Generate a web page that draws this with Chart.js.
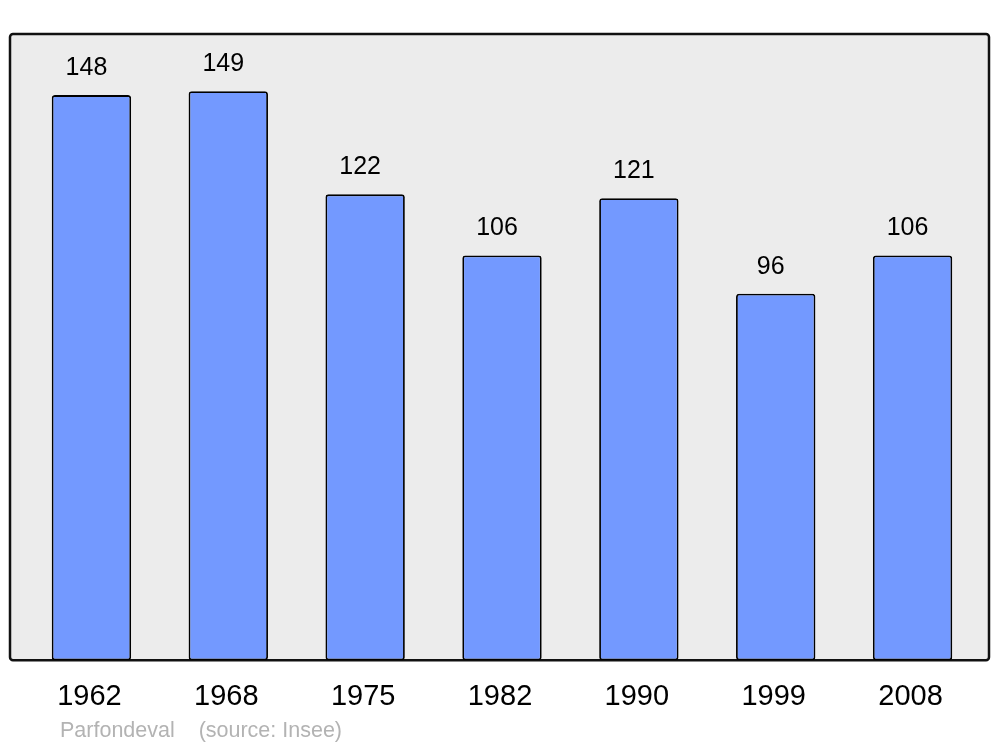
<!DOCTYPE html>
<html>
<head>
<meta charset="utf-8">
<script src="https://cdn.jsdelivr.net/npm/chart.js@4"></script>
<style>
  html, body { margin: 0; padding: 0; background: #ffffff; }
  #wrap { width: 1000px; height: 747px; }
</style>
</head>
<body>
<div id="wrap"><canvas id="popChart" width="1000" height="747"></canvas></div>
<script>
const years = ['1962', '1968', '1975', '1982', '1990', '1999', '2008'];
const population = [148, 149, 122, 106, 121, 96, 106];
const caption = 'Parfondeval    (source: Insee)';

const fontFamily = '"Liberation Sans", Arial, sans-serif';

// grey frame behind the bars
const framePlugin = {
    id: 'frame',
    beforeDatasetsDraw(chart) {
        const { ctx, chartArea } = chart;
        const x = chartArea.left - 13, y = chartArea.top;
        const w = chartArea.right + 8 - x, h = chartArea.bottom - y;
        ctx.save();
        ctx.beginPath();
        ctx.roundRect(x, y, w, h, 3);
        ctx.fillStyle = '#ececec';
        ctx.fill();
        ctx.lineWidth = 2.5;
        ctx.strokeStyle = '#111111';
        ctx.stroke();
        ctx.restore();
    }
};

// value above each bar + source caption
const labelPlugin = {
    id: 'valueLabels',
    afterDatasetsDraw(chart) {
        const { ctx, chartArea } = chart;
        const meta = chart.getDatasetMeta(0);
        ctx.save();
        ctx.font = '25px ' + fontFamily;
        ctx.fillStyle = '#000000';
        ctx.textAlign = 'center';
        ctx.textBaseline = 'middle';
        meta.data.forEach((bar, i) => {
            ctx.fillText(String(population[i]), bar.x - 5, bar.y - 27);
        });
        ctx.font = '21.5px ' + fontFamily;
        ctx.fillStyle = '#b3b3b3';
        ctx.textAlign = 'left';
        ctx.fillText(caption, chartArea.left + 37, 731);
        ctx.restore();
    }
};

new Chart(document.getElementById('popChart'), {
    type: 'bar',
    data: {
        labels: years,
        datasets: [{
            data: population,
            backgroundColor: '#7399ff',
            borderColor: '#000000',
            borderWidth: 1.8,
            borderRadius: 3,
            borderSkipped: false,
            barPercentage: 0.58,
            categoryPercentage: 1
        }]
    },
    options: {
        responsive: false,
        animation: false,
        layout: { padding: { top: 34, left: 23, right: 19, bottom: 22 } },
        scales: {
            x: {
                grid: { display: false },
                border: { display: false },
                ticks: { color: '#000000', font: { size: 29, family: fontFamily }, padding: 11, labelOffset: -2 }
            },
            y: {
                display: false,
                min: 0,
                max: 164
            }
        },
        plugins: {
            legend: { display: false },
            tooltip: { enabled: false }
        }
    },
    plugins: [framePlugin, labelPlugin]
});
</script>
</body>
</html>
